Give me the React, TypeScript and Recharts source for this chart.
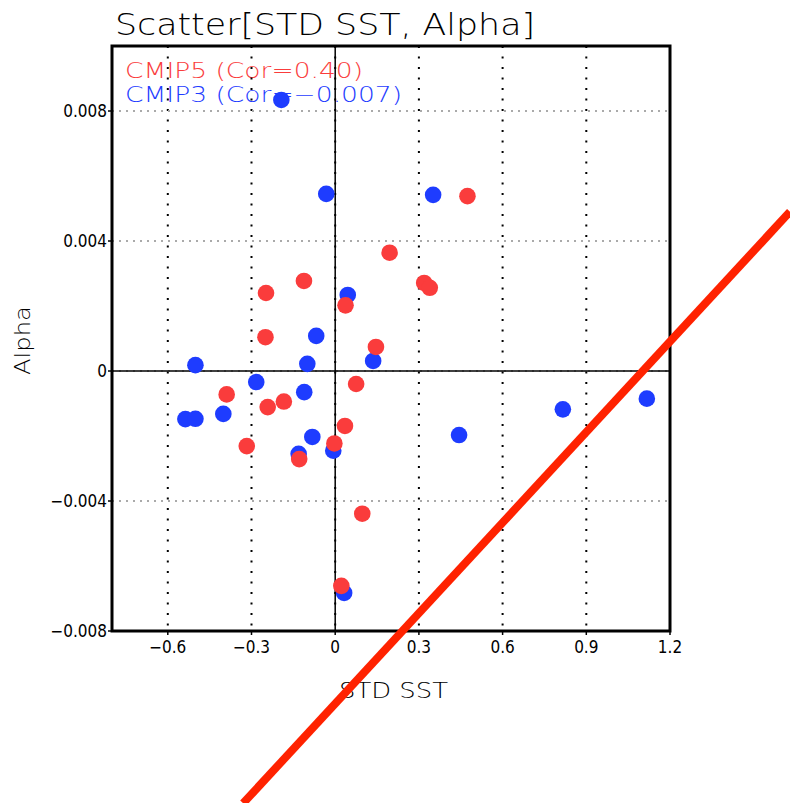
import { ScatterChart, Scatter, XAxis, YAxis, CartesianGrid, ReferenceLine, ReferenceArea } from "recharts";

// CMIP3 models (blue)
const cmip3 = [
  { x: -0.193, y: 0.00834 },
  { x: -0.032, y: 0.00545 },
  { x: 0.351, y: 0.00542 },
  { x: 0.045, y: 0.00234 },
  { x: -0.068, y: 0.00108 },
  { x: -0.501, y: 0.00018 },
  { x: -0.1, y: 0.00022 },
  { x: 0.136, y: 0.00031 },
  { x: -0.283, y: -0.00034 },
  { x: -0.111, y: -0.00065 },
  { x: -0.537, y: -0.00148 },
  { x: -0.501, y: -0.00147 },
  { x: -0.401, y: -0.00132 },
  { x: -0.082, y: -0.00203 },
  { x: -0.131, y: -0.00255 },
  { x: -0.007, y: -0.00245 },
  { x: 0.032, y: -0.00683 },
  { x: 0.444, y: -0.00197 },
  { x: 0.816, y: -0.00118 },
  { x: 1.117, y: -0.00085 },
];

// CMIP5 models (red)
const cmip5 = [
  { x: 0.474, y: 0.00538 },
  { x: 0.195, y: 0.00364 },
  { x: -0.112, y: 0.00277 },
  { x: -0.248, y: 0.0024 },
  { x: 0.319, y: 0.00271 },
  { x: 0.339, y: 0.00256 },
  { x: 0.037, y: 0.00202 },
  { x: -0.25, y: 0.00104 },
  { x: 0.146, y: 0.00074 },
  { x: 0.075, y: -0.0004 },
  { x: -0.389, y: -0.00072 },
  { x: -0.184, y: -0.00094 },
  { x: -0.242, y: -0.00111 },
  { x: -0.317, y: -0.00231 },
  { x: -0.129, y: -0.00271 },
  { x: -0.003, y: -0.00223 },
  { x: 0.035, y: -0.00169 },
  { x: 0.097, y: -0.00439 },
  { x: 0.022, y: -0.00661 },
];

// regression line end points (drawn past the frame, as in the original)
const fitLine = [
  { x: -0.33, y: -0.0133 },
  { x: 1.63, y: 0.0049 },
];

const xTicks = [-0.6, -0.3, 0, 0.3, 0.6, 0.9, 1.2];
const yTicks = [-0.008, -0.004, 0, 0.004, 0.008];

const RED = "#fa3c3c";
const BLUE = "#1e3cff";
const tickFont = "'Liberation Sans Narrow', 'DejaVu Sans Condensed', 'Arial Narrow', sans-serif";
const textFont = "'DejaVu Sans', sans-serif";

const fmt = (v: number) => (v === 0 ? "0" : v < 0 ? "\u2212" + String(-v) : String(v));

const dot = (color: string) => (p: any) => <circle cx={p.cx} cy={p.cy} r={8.3} fill={color} />;

export default function App() {
  return (
    <div style={{ position: "absolute", left: 0, top: 0, width: 790, height: 803, background: "#fff" }}>
      {/* texts under the chart layer so markers / fit line draw over them */}
      <svg width={790} height={803} style={{ position: "absolute", left: 0, top: 0 }}>
        <text x={115} y={35} fontFamily={textFont} fontSize={30} fontWeight={300} textLength={420} lengthAdjust="spacingAndGlyphs">
          Scatter[STD SST, Alpha]
        </text>
        <text x={125} y={78} fill={RED} fontFamily={textFont} fontSize={21} fontWeight={300} textLength={238} lengthAdjust="spacingAndGlyphs">
          CMIP5 (Cor=0.40)
        </text>
        <text x={125} y={102} fill={BLUE} fontFamily={textFont} fontSize={21} fontWeight={300} textLength={277} lengthAdjust="spacingAndGlyphs">
          CMIP3 (Cor=−0.007)
        </text>
        <text x={339} y={698} fontFamily={textFont} fontSize={22} fontWeight={300} textLength={109} lengthAdjust="spacingAndGlyphs">
          STD SST
        </text>
        <text x={0} y={0} transform="translate(30,375) rotate(-90)" fontFamily={textFont} fontSize={22} fontWeight={300} textLength={69} lengthAdjust="spacingAndGlyphs">
          Alpha
        </text>
      </svg>
      <div style={{ position: "absolute", left: 0, top: 0 }}>
        <ScatterChart width={790} height={803} margin={{ top: 46, right: 120, bottom: 132, left: 0 }}>
          <CartesianGrid horizontal={false} stroke="#000" strokeWidth={2} strokeDasharray="2 8.5" />
          <CartesianGrid vertical={false} stroke="#aaa" strokeWidth={2} strokeDasharray="2 5" />
          <XAxis
            type="number"
            dataKey="x"
            domain={[-0.8, 1.2]}
            ticks={xTicks}
            tickFormatter={fmt}
            axisLine={false}
            tickSize={4}
            tickMargin={6}
            height={40}
            tickLine={{ stroke: "#000", strokeWidth: 1.5 }}
            tick={{ fill: "#000", fontSize: 17, fontFamily: tickFont }}
          />
          <YAxis
            type="number"
            dataKey="y"
            domain={[-0.008, 0.01]}
            ticks={yTicks}
            tickFormatter={fmt}
            axisLine={false}
            width={112}
            tickSize={4}
            tickMargin={1}
            tickLine={{ stroke: "#000", strokeWidth: 1.5 }}
            tick={{ fill: "#000", fontSize: 17, fontFamily: tickFont }}
          />
          <ReferenceLine x={0} stroke="#000" strokeWidth={1.5} />
          <ReferenceLine y={0} stroke="#000" strokeWidth={1.5} />
          <ReferenceArea x1={-0.8} x2={1.2} y1={-0.008} y2={0.01} fill="none" fillOpacity={0} stroke="#000" strokeWidth={3} />
          <Scatter data={cmip3} fill={BLUE} shape={dot(BLUE)} isAnimationActive={false} />
          <Scatter data={cmip5} fill={RED} shape={dot(RED)} isAnimationActive={false} />
          <ReferenceLine segment={fitLine} stroke="#ff2200" strokeWidth={8} ifOverflow="visible" />
        </ScatterChart>
      </div>
    </div>
  );
}
